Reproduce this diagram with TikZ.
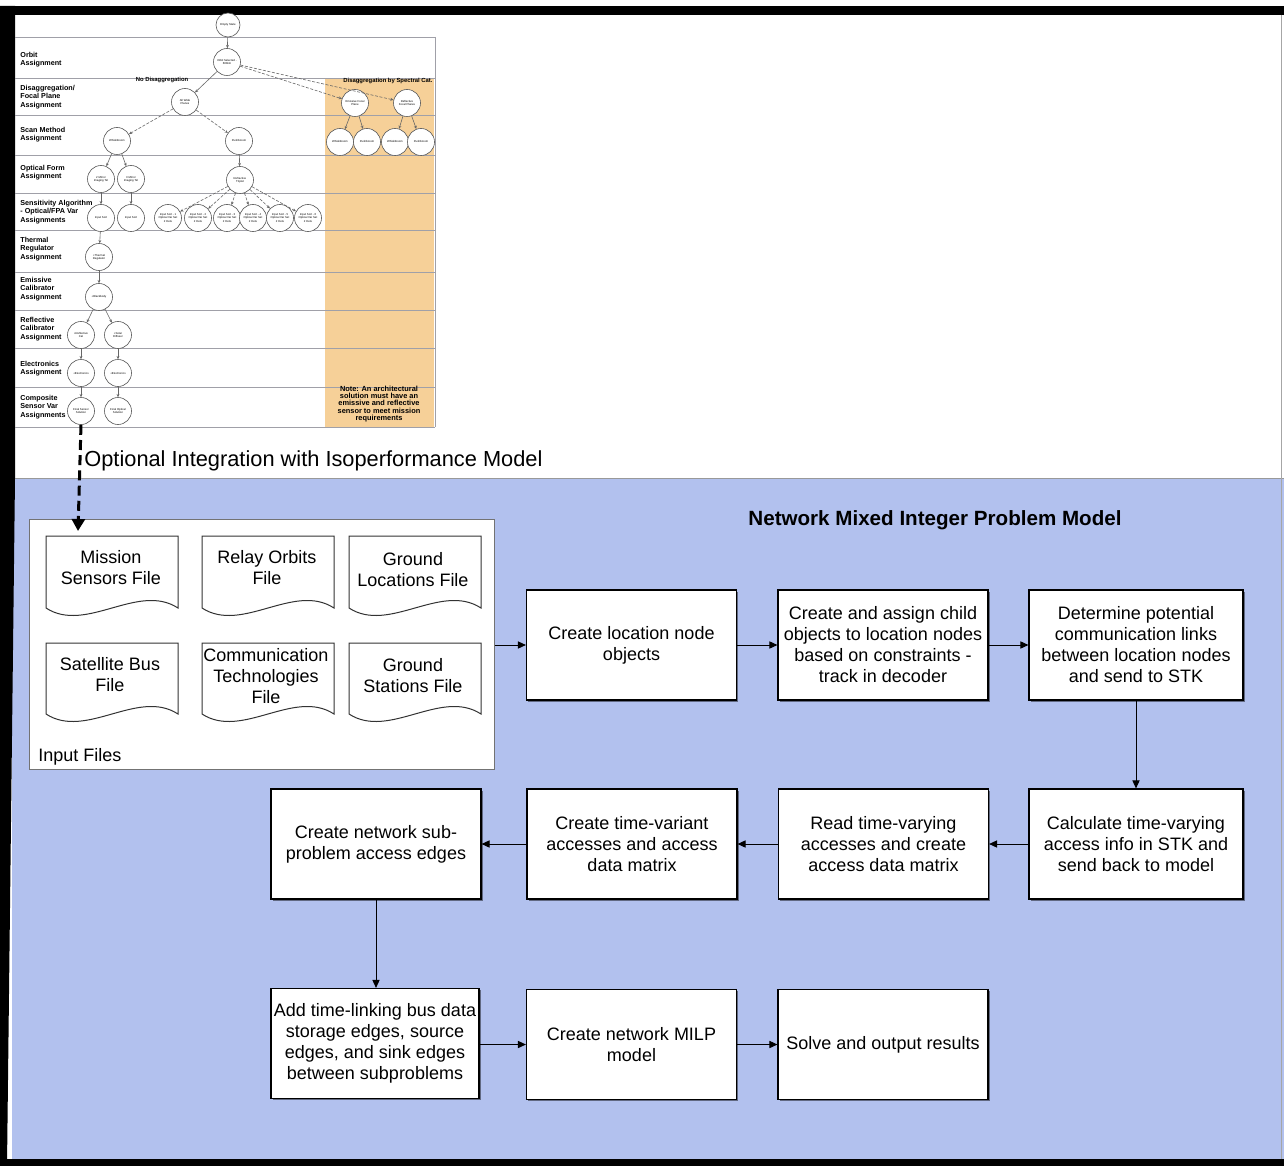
\documentclass[tikz,border=0pt]{standalone}
\usepackage{fontspec}
\setmainfont{Liberation Sans}
\usetikzlibrary{arrows.meta,shadows}

\definecolor{panelblue}{RGB}{178,193,238}
\definecolor{disagg}{RGB}{246,208,152}
\definecolor{rowline}{RGB}{160,160,168}

% document-shaped outline: #1 left x, #2 top y, #3 bottom y of the sides
\newcommand\docshape[3]{%
  \path[docline] (#1,#2) -- (#1+132,#2) -- (#1+132,#3)
    .. controls (#1+92,#3-26) and (#1+40,#3+26) .. (#1,#3) -- cycle;}

\begin{document}
\begin{tikzpicture}[x=0.5pt,y=-0.5pt,
  proc/.style={draw=black,line width=0.6pt,fill=white,minimum width=105pt,
    minimum height=55pt,align=center,inner sep=1pt,
    font=\fontsize{9}{10.5}\selectfont,
    drop shadow={shadow xshift=0.9pt,shadow yshift=-0.9pt,opacity=0.45,fill=black}},
  flow/.style={-{Triangle[length=4pt,width=3.6pt]},line width=0.5pt},
  filetext/.style={align=center,inner sep=0pt,font=\fontsize{9}{10.5}\selectfont},
  docline/.style={draw=black!80,line width=0.5pt,fill=white},
  tnode/.style={circle,draw=black!65,line width=0.3pt,fill=white,minimum size=13.5pt,
    inner sep=0pt,align=center,font=\fontsize{1.4}{1.7}\selectfont},
  tedge/.style={draw=black!60,line width=0.3pt,-{Stealth[length=1.6pt,width=1.4pt]}},
  tdash/.style={tedge,dash pattern=on 1.5pt off 0.8pt},
  rowlabel/.style={anchor=west,align=left,inner sep=0pt,font=\fontsize{3.6}{4.25}\selectfont\bfseries},
  boldnote/.style={align=center,inner sep=0pt,font=\fontsize{3.7}{3.6}\selectfont\bfseries},
  branchlabel/.style={inner sep=0pt,font=\fontsize{2.95}{3.5}\selectfont\bfseries},
]
\useasboundingbox (0,0) rectangle (1284,1166);

% ---------- page background and frame ----------
\fill[white] (0,0) rectangle (1284,1166);
\fill[panelblue] (12,478) rectangle (1284,1160);
\draw[black!40,line width=0.4pt] (12,478) -- (1284,478);
\draw[black!35,line width=0.4pt] (1281,15) -- (1281,1160);
\fill[black] (0,6) rectangle (1284,15);
\fill[black] (0,6) -- (15,6) -- (15,478) -- (7,1166) -- (0,1166) -- cycle;
\fill[black] (0,1159) rectangle (1284,1166);

% ---------- decision tree ----------
\fill[disagg] (325,78) rectangle (434,428);
\foreach \y in {37,78,115,155,193,230,272,310,348,387,427}
  \draw[rowline,line width=0.35pt] (15,\y) -- (435,\y);
\draw[rowline,line width=0.35pt] (435,37) -- (435,427);

\node[rowlabel] (l1) at (20,59.5) {Orbit\\Assignment};
\node[rowlabel] (l2) at (20,97) {Disaggregation/\\Focal Plane\\Assignment};
\node[rowlabel] (l3) at (20,134.5) {Scan Method\\Assignment};
\node[rowlabel] (l4) at (20,172.5) {Optical Form\\Assignment};
\node[rowlabel] (l5) at (20,212) {Sensitivity Algorithm\\- Optical/FPA Var\\Assignments};
\node[rowlabel] (l6) at (20,249) {Thermal\\Regulator\\Assignment};
\node[rowlabel] (l7) at (20,289) {Emissive\\Calibrator\\Assignment};
\node[rowlabel] (l8) at (20,329) {Reflective\\Calibrator\\Assignment};
\node[rowlabel] (l9) at (20,368.5) {Electronics\\Assignment};
\node[rowlabel] (l10) at (20,407) {Composite\\Sensor Var\\Assignments};

\node[branchlabel] (nd) at (162,80) {No Disaggregation};
\node[branchlabel] (sd) at (388,81) {Disaggregation by Spectral Cat.};
\node[boldnote] (note) at (379,404) {Note: An architectural\\solution must have an\\emissive and reflective\\sensor to meet mission\\requirements};

\node[tnode,minimum size=12pt] (t0) at (228,25) {Empty State};
\node[tnode] (t1) at (227,62) {Orbit Selected -\\600km};
\node[tnode] (t2) at (185,102) {All Wide\\Planes};
\node[tnode] (t3) at (355,103) {Emissive Focal\\Plane};
\node[tnode] (t4) at (407,103) {Reflective\\Focal Planes};
\node[tnode] (s1) at (117,141) {Whiskbroom};
\node[tnode] (s2) at (239,141) {Pushbroom};
\node[tnode] (s3) at (340,142) {Whiskbroom};
\node[tnode] (s4) at (367,142) {Pushbroom};
\node[tnode] (s5) at (395,142) {Whiskbroom};
\node[tnode] (s6) at (421,142) {Pushbroom};
\node[tnode] (o1) at (101,179) {2 Mirror\\Imaging Tel};
\node[tnode] (o2) at (131,179) {3 Mirror\\Imaging Tel};
\node[tnode] (o3) at (240,180) {Refractive\\Triplet};
\node[tnode] (a1) at (101,218) {Input Sort};
\node[tnode] (a2) at (131,218) {Input Sort};
\foreach \x [count=\i] in {168,198,227,253,280,308}
  \node[tnode] (b\i) at (\x,218) {Input Sort - \i\\Optical Var Set\\2 Dets};
\node[tnode] (h1) at (99,257) {+Thermal\\Regulator};
\node[tnode] (e1) at (99,297) {+Blackbody};
\node[tnode] (r1) at (81,335) {+Reflective\\Cal};
\node[tnode] (r2) at (118,335) {+Solar\\Diffuser};
\node[tnode] (x1) at (81,373) {+Electronics};
\node[tnode] (x2) at (118,373) {+Electronics};
\node[tnode] (c1) at (81,411) {Final Sensor\\Solution};
\node[tnode] (c2) at (118,411) {Final Optical\\Solution};

\draw[tedge] (t0) -- (t1);
\draw[tedge] (t1) -- (t2);
\draw[tdash] (t1) -- (t3);
\draw[tdash] (t1) -- (t4);
\draw[tdash] (t2) -- (s1);
\draw[tdash] (t2) -- (s2);
\draw[tedge] (t3) -- (s3);
\draw[tedge] (t3) -- (s4);
\draw[tedge] (t4) -- (s5);
\draw[tedge] (t4) -- (s6);
\draw[tedge] (s1) -- (o1);
\draw[tedge] (s1) -- (o2);
\draw[tedge] (s2) -- (o3);
\draw[tedge] (o1) -- (a1);
\draw[tedge] (o2) -- (a2);
\foreach \i in {1,...,6} \draw[tdash] (o3) -- (b\i);
\draw[tedge] (a1) -- (h1);
\draw[tedge] (h1) -- (e1);
\draw[tedge] (e1) -- (r1);
\draw[tedge] (e1) -- (r2);
\draw[tedge] (r1) -- (x1);
\draw[tedge] (r2) -- (x2);
\draw[tedge] (x1) -- (c1);
\draw[tedge] (x2) -- (c2);

% ---------- link to the network model ----------
\node[anchor=west,inner sep=0pt,font=\fontsize{10.9}{12}\selectfont] (opt) at (84,461)
  {Optional Integration with Isoperformance Model};
\node[inner sep=0pt,font=\fontsize{10.3}{12}\selectfont\bfseries] (title) at (935,520)
  {Network Mixed Integer Problem Model};

% ---------- input files ----------
\node[draw=black!55,line width=0.5pt,fill=white,minimum width=232.5pt,minimum height=125pt,inner sep=0pt]
  (input) at (261.5,644) {};
\node[anchor=west,inner sep=0pt,font=\fontsize{9}{10.5}\selectfont] (inlabel) at (38,757) {Input Files};

\docshape{46}{536}{608}
\docshape{202}{536}{608}
\docshape{349}{536}{608}
\docshape{46}{643}{714}
\docshape{202}{643}{714}
\docshape{349}{643}{714}

\node[filetext] (msf) at (111,568) {Mission\\Sensors File};
\node[filetext] (rof) at (267,568) {Relay Orbits\\File};
\node[filetext] (glf) at (413,569.5) {Ground\\Locations File};
\node[filetext] (sbf) at (110,674.5) {Satellite Bus\\File};
\node[filetext] (ctf) at (266,676) {Communication\\Technologies\\File};
\node[filetext] (gsf) at (413,676) {Ground\\Stations File};

\coordinate (msftop) at (78,531);
\draw[line width=1.5pt,dash pattern=on 5pt off 2.6pt,-{Triangle[length=6pt,width=6.5pt]}]
  (c1.south) -- (msftop);

% ---------- process boxes ----------
\node[proc] (p1) at (631.5,645) {Create location node\\objects};
\node[proc] (p2) at (883,645) {Create and assign child\\objects to location nodes\\based on constraints -\\track in decoder};
\node[proc,minimum width=107pt] (p3) at (1136,645) {Determine potential\\communication links\\between location nodes\\and send to STK};

\node[proc,minimum width=107pt] (q1) at (1136,844) {Calculate time-varying\\access info in STK and\\send back to model};
\node[proc] (q2) at (883.5,844) {Read time-varying\\accesses and create\\access data matrix};
\node[proc] (q3) at (632,844) {Create time-variant\\accesses and access\\data matrix};
\node[proc] (q4) at (376,844) {Create network sub-\\problem access edges};

\node[proc,minimum width=104pt] (u1) at (375,1043.5) {Add time-linking bus data\\storage edges, source\\edges, and sink edges\\between subproblems};
\node[proc] (u2) at (631.5,1044.5) {Create network MILP\\model};
\node[proc] (u3) at (883,1044.5) {Solve and output results};

\draw[flow] (input.east |- p1.west) -- (p1.west);
\draw[flow] (p1) -- (p2);
\draw[flow] (p2) -- (p3);
\draw[flow] (p3.south) -- (q1.north);
\draw[flow] (q1) -- (q2);
\draw[flow] (q2) -- (q3);
\draw[flow] (q3) -- (q4);
\draw[flow] (q4.south) -- (u1.north -| q4.south);
\draw[flow] (u1.east |- u2.west) -- (u2.west);
\draw[flow] (u2) -- (u3);
\end{tikzpicture}
\end{document}
